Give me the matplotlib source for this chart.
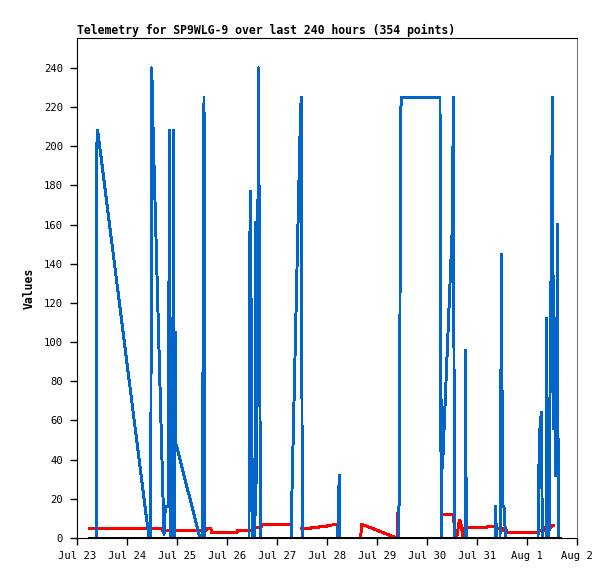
import numpy as np
import pandas as pd
import matplotlib
matplotlib.use("Agg")
from matplotlib import pyplot as plt
from matplotlib.ticker import FuncFormatter
import matplotlib.dates as mdates

plt.rcParams["font.family"] = ["DejaVu Sans Mono"]

start = pd.Timestamp("2024-07-23 00:00")

# blue series: hours after Jul 23 00:00, value
blue_hours = [5.76, 9.26, 9.46, 9.94, 34.56, 35.42, 35.62, 35.81, 36.14, 36.48,
              41.76, 42.05, 42.48, 43.92, 44.30, 44.78, 45.36, 45.74, 45.98, 46.32,
              46.70, 47.18, 47.52, 59.04, 60.14, 60.34, 60.62, 60.96, 61.44,
              82.56, 82.70, 83.18, 83.76, 84.24, 85.44, 85.68, 86.16, 86.64, 87.12,
              87.60, 88.08, 102.72, 102.96, 107.28, 107.66, 108.14,
              125.18, 125.42, 125.90, 126.24,
              154.08, 154.32, 154.80, 155.28, 155.76, 174.24, 174.48, 174.86,
              175.20, 175.44, 180.24, 180.62, 181.20,
              186.24, 186.48, 186.86, 200.64, 200.88, 201.36,
              203.04, 203.28, 203.76, 204.24, 204.96, 205.30, 205.68,
              221.28, 221.52, 222.00, 222.48, 222.96, 223.34,
              225.12, 225.36, 225.74, 226.56, 226.80, 227.28, 227.76, 228.24,
              228.72, 229.20, 229.68, 230.16, 230.64, 231.02, 232.32]
blue_values = [0, 0, 200, 208, 0, 0, 145, 240, 230, 210,
               2, 10, 16, 16, 208, 0, 93, 112, 0, 208,
               0, 105, 48, 0, 0, 44, 133, 225, 0,
               0, 112, 177, 88, 0, 0, 161, 28, 112, 240,
               128, 0, 0, 13, 217, 225, 0,
               0, 16, 32, 0,
               0, 12, 21, 216, 225, 225, 112, 0,
               70, 36, 161, 225, 0,
               0, 96, 0, 0, 16, 0,
               0, 32, 145, 16, 16, 10, 0,
               0, 24, 52, 60, 64, 0,
               0, 112, 0, 0, 48, 97, 168, 225,
               56, 112, 32, 32, 160, 0, 0]

# red series (nan = gap in the line)
red_hours = [5.76, 40.80, 40.94, 61.92, 62.06, 64.32, 64.46, 76.80, 76.94, 84.00,
             84.14, 88.32, 88.46, 102.72, 102.86, 103.06, 103.10, 107.90, 112.32, 112.46,
             116.16, 116.30, 120.00, 120.14, 125.04, 125.10,
             136.18, 136.56, 153.46, 153.70, 153.98, 154.00,
             174.96, 180.62, 181.58, 182.64, 183.12, 183.84, 184.56, 185.28, 186.00,
             196.66, 196.80, 201.12, 201.26, 204.34, 204.48, 206.26, 206.40,
             221.28, 221.42, 224.64, 224.78, 227.52, 227.66, 228.72]
red_values = [4.8, 4.8, 3.8, 3.8, 4.8, 4.8, 2.8, 2.8, 3.7, 3.7,
              5.2, 5.2, 7.0, 7.0, 9.2, 0.7, np.nan, 5.0, 5.0, 5.5,
              5.5, 5.9, 5.9, 6.5, 6.8, np.nan,
              0, 7.1, 0, 0, 12.5, np.nan,
              12.1, 12.1, 0, 2, 7, 9.2, 6, 0, 5.2,
              5.2, 5.8, 5.8, 5.0, 5.0, 3.7, 3.7, 2.7,
              2.7, 4.0, 4.0, 5.3, 5.3, 6.6, 6.6]

# black series (always zero)
black_hours = [5.76, 232.32]
black_values = [0, 0]

day_ticks = pd.date_range("2024-07-23", "2024-08-02", freq="D")


def to_time(hours):
    return start + pd.to_timedelta(hours, unit="h")


fig = plt.figure(figsize=(6.15, 5.79), dpi=100)
ax = fig.add_axes([0.1252, 0.0708, 0.813, 0.8636])

ax.plot(to_time(red_hours), red_values, color="#ff0000", lw=1.4, antialiased=False)
ax.plot(to_time(blue_hours), blue_values, color="#0066cc", lw=1.4, antialiased=False)
ax.plot(to_time(black_hours), black_values, color="black", lw=1.4, clip_on=False,
        antialiased=False)

ax.set_xlim(day_ticks[0], day_ticks[-1])
ax.set_ylim(0, 255.3)
ax.set_yticks(range(0, 241, 20))
ax.set_xticks(day_ticks)
ax.xaxis.set_major_formatter(
    FuncFormatter(lambda v, pos: "{:%b} {}".format(mdates.num2date(v), mdates.num2date(v).day)))

ax.tick_params(axis="both", labelsize=7.6, length=5, width=1, direction="out")
ax.tick_params(axis="y", pad=5)
ax.tick_params(axis="x", pad=4)

for side in ["left", "bottom", "top"]:
    ax.spines[side].set_color("black")
ax.spines["right"].set_color("#777777")

ax.set_title("Telemetry for SP9WLG-9 over last 240 hours (354 points)",
             loc="left", fontsize=8.3, fontweight="bold", pad=3)
ax.set_ylabel("Values", fontsize=8.3, fontweight="bold", labelpad=6)

fig.savefig("out.png", dpi=100)
